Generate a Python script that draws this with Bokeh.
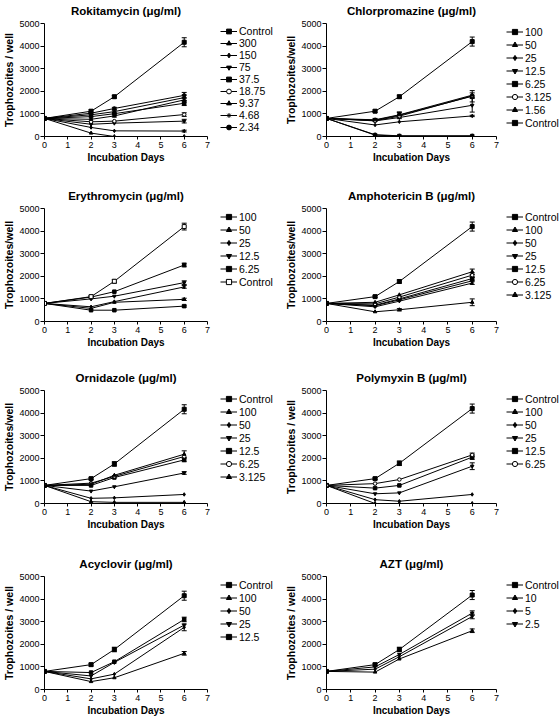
from bokeh.plotting import figure
from bokeh.layouts import column, row
from bokeh.models import (Range1d, Legend, LegendItem, Whisker, ColumnDataSource,
                          TeeHead, FixedTicker)
from bokeh.embed import file_html
from bokeh.resources import INLINE

# ---------------- data ----------------
days = [0, 2, 3, 6]
x_ticks = [0, 1, 2, 3, 4, 5, 6, 7]
y_ticks = [0, 1000, 2000, 3000, 4000, 5000]

roki_title = "Rokitamycin (μg/ml)"
roki_labels = ["Control", "300", "150", "75", "37.5", "18.75", "9.37", "4.68", "2.34"]
roki_values = [
    [800, 1120, 1760, 4170],
    [800, 150, 0, 0],
    [800, 400, 250, 240],
    [800, 540, 590, 680],
    [800, 880, 1010, 1470],
    [800, 650, 680, 970],
    [800, 760, 910, 1620],
    [800, 960, 1100, 1720],
    [800, 1030, 1240, 1820],
]
roki_errors = [
    [0, 60, 60, 200], [0, 0, 0, 0], [0, 0, 0, 40], [0, 0, 0, 80], [0, 0, 0, 100],
    [0, 0, 0, 80], [0, 0, 50, 100], [0, 0, 60, 120], [0, 40, 50, 130],
]

chlor_title = "Chlorpromazine (μg/ml)"
chlor_labels = ["100", "50", "25", "12.5", "6.25", "3.125", "1.56", "Control"]
chlor_values = [
    [800, 60, 20, 20],
    [800, 80, 30, 30],
    [800, 510, 650, 910],
    [800, 690, 840, 1380],
    [800, 720, 940, 1780],
    [800, 700, 900, 1800],
    [800, 740, 960, 1830],
    [800, 1120, 1760, 4200],
]
chlor_errors = [
    [0, 0, 0, 0], [0, 0, 0, 0], [0, 0, 0, 30], [0, 0, 0, 300], [0, 0, 150, 250],
    [0, 0, 0, 0], [0, 60, 100, 100], [0, 50, 70, 200],
]

ery_title = "Erythromycin (μg/ml)"
ery_labels = ["100", "50", "25", "12.5", "6.25", "Control"]
ery_values = [
    [800, 500, 500, 680],
    [800, 580, 850, 980],
    [800, 650, 880, 1530],
    [800, 1000, 1120, 1720],
    [800, 1080, 1320, 2500],
    [800, 1100, 1780, 4200],
]
ery_errors = [
    [0, 0, 0, 40], [0, 0, 0, 50], [0, 0, 0, 60], [0, 0, 0, 80], [0, 0, 0, 80],
    [0, 40, 80, 150],
]

ampho_title = "Amphotericin B (μg/ml)"
ampho_labels = ["Control", "100", "50", "25", "12.5", "6.25", "3.125"]
ampho_values = [
    [800, 1100, 1770, 4200],
    [800, 430, 520, 850],
    [800, 650, 900, 1700],
    [800, 700, 960, 1800],
    [800, 720, 1000, 1900],
    [800, 780, 1080, 2050],
    [800, 850, 1180, 2200],
]
ampho_errors = [
    [0, 40, 70, 200], [0, 0, 50, 150], [0, 0, 0, 60], [0, 0, 0, 0], [0, 0, 0, 80],
    [0, 0, 0, 100], [0, 0, 0, 120],
]

orni_title = "Ornidazole (μg/ml)"
orni_labels = ["Control", "100", "50", "25", "12.5", "6.25", "3.125"]
orni_values = [
    [800, 1100, 1750, 4170],
    [800, 80, 50, 50],
    [800, 230, 250, 400],
    [800, 550, 740, 1350],
    [800, 800, 1150, 1930],
    [800, 900, 1200, 2080],
    [800, 850, 1250, 2180],
]
orni_errors = [
    [0, 40, 100, 200], [0, 0, 0, 0], [0, 0, 0, 0], [0, 0, 0, 60], [0, 0, 0, 80],
    [0, 0, 0, 0], [0, 0, 0, 150],
]

poly_title = "Polymyxin B (μg/ml)"
poly_labels = ["Control", "100", "50", "25", "12.5", "6.25"]
poly_values = [
    [800, 1100, 1780, 4200],
    [800, 0, 0, 0],
    [800, 170, 100, 400],
    [800, 430, 470, 1650],
    [800, 680, 800, 2050],
    [800, 880, 1060, 2150],
]
poly_errors = [
    [0, 40, 100, 200], [0, 0, 0, 0], [0, 0, 0, 0], [0, 0, 0, 150], [0, 0, 0, 100],
    [0, 0, 0, 80],
]

acy_title = "Acyclovir (μg/ml)"
acy_labels = ["Control", "100", "50", "25", "12.5"]
acy_values = [
    [800, 1100, 1770, 4150],
    [800, 350, 520, 1600],
    [800, 470, 680, 2750],
    [800, 600, 1200, 2850],
    [800, 750, 1230, 3100],
]
acy_errors = [
    [0, 60, 100, 200], [0, 0, 0, 80], [0, 0, 0, 150], [0, 0, 0, 0], [0, 0, 0, 100],
]

azt_title = "AZT (μg/ml)"
azt_labels = ["Control", "10", "5", "2.5"]
azt_values = [
    [800, 1100, 1770, 4180],
    [800, 770, 1350, 2600],
    [800, 900, 1450, 3230],
    [800, 1000, 1550, 3380],
]
azt_errors = [
    [0, 60, 100, 200], [0, 0, 0, 80], [0, 0, 0, 100], [0, 0, 0, 100],
]

# ---------------- styling / layout ----------------
FONT = "Liberation Sans"
ROW_H = [185, 182, 186, 165]
TOP = 23
FRAME_H = 113
COL_W = [280, 280]
LEFT = [38, 46]
RPAD = 5
DATA_W = [169, 170]      # pixel width of the 0..7 day span
LEG_GAP = [8, 5]         # gap from plot canvas edge to the legend glyphs
MARKERS = ["square", "triangle", "diamond", "inverted_triangle", "square",
           "circle", "triangle", "asterisk", "circle"]


def style_marker(lab, i, open_idx):
    mk = "square" if lab == "Control" else MARKERS[i % len(MARKERS)]
    fill = "white" if i in open_idx else "black"
    sz = 4 if lab == "Control" else 3.5
    return mk, fill, sz


def make_panel(title, ylabel, labels, values, errors, open_idx, col, rowi):
    W = COL_W[col]
    H = ROW_H[rowi]
    dw = DATA_W[col]
    pw = LEFT[col] + dw + RPAD
    p = figure(width=pw, height=H, x_range=Range1d(x_ticks[0], x_ticks[-1]),
               y_range=Range1d(y_ticks[0], y_ticks[-1]),
               output_backend="svg", toolbar_location=None,
               min_border_left=LEFT[col], min_border_right=RPAD,
               min_border_top=TOP, min_border_bottom=H - TOP - FRAME_H)
    p.outline_line_color = None
    p.xgrid.visible = False
    p.ygrid.visible = False
    p.background_fill_color = "white"
    p.border_fill_color = "white"

    p.title.text = title
    p.title.align = "center"
    p.title.vertical_align = "top"
    p.title.text_font = FONT
    p.title.text_font_size = "11.5px"
    p.title.text_font_style = "bold"
    p.title.text_color = "black"
    p.title.standoff = 9

    p.xaxis.ticker = FixedTicker(ticks=x_ticks)
    p.yaxis.ticker = FixedTicker(ticks=y_ticks)
    for ax in (p.xaxis, p.yaxis):
        ax.axis_line_color = "black"
        ax.major_tick_line_color = "black"
        ax.minor_tick_line_color = None
        ax.major_tick_in = 0
        ax.major_tick_out = 3
        ax.major_label_text_font = FONT
        ax.major_label_text_font_size = "9px"
        ax.major_label_text_color = "black"
        ax.axis_label_text_font = FONT
        ax.axis_label_text_font_style = "bold"
        ax.axis_label_text_color = "black"
    p.xaxis.major_label_standoff = 2
    p.xaxis.axis_label_standoff = 1
    p.xaxis.axis_label = "Incubation Days"
    p.xaxis.axis_label_text_font_size = "10px"
    p.yaxis.major_tick_out = 4
    p.yaxis.major_label_standoff = 1
    p.yaxis.axis_label = ylabel
    p.yaxis.axis_label_text_font_size = "10.5px"
    p.yaxis.axis_label_standoff = 1

    # legend canvas right of the plot; its series are drawn outside its view
    lw = W - pw
    lf = figure(width=lw, height=H, x_range=Range1d(-20, -10), y_range=Range1d(-20, -10),
                x_axis_type=None, y_axis_type=None, output_backend="svg",
                toolbar_location=None, min_border_left=LEG_GAP[col] - 2,
                min_border_right=0, min_border_top=TOP, min_border_bottom=H - TOP - FRAME_H)
    lf.outline_line_color = None
    lf.background_fill_color = "white"
    lf.border_fill_color = "white"

    n = len(labels)
    item_h = 13 if n <= 8 else 12
    items = []
    for i, (lab, vals, errs) in enumerate(zip(labels, values, errors)):
        mk, fill, sz = style_marker(lab, i, open_idx)
        p.line(days, vals, line_color="black", line_width=1)
        p.scatter(days, vals, marker=mk, size=sz, line_color="black",
                  fill_color=fill, line_width=1)
        xs = [d for d, e in zip(days, errs) if e > 0]
        if xs:
            up = [v + e for v, e in zip(vals, errs) if e > 0]
            lo = [v - e for v, e in zip(vals, errs) if e > 0]
            src = ColumnDataSource(data=dict(x=xs, upper=up, lower=lo))
            w = Whisker(base="x", upper="upper", lower="lower", source=src,
                        dimension="height", line_color="black", line_width=1,
                        upper_head=TeeHead(size=5, line_color="black", line_width=1),
                        lower_head=TeeHead(size=5, line_color="black", line_width=1))
            p.add_layout(w)
        ln = lf.line(days, vals, line_color="black", line_width=1)
        sc = lf.scatter(days, vals, marker=mk, size=sz, line_color="black",
                        fill_color=fill, line_width=1)
        items.append(LegendItem(label=lab, renderers=[ln, sc]))

    legend = Legend(items=items, location="top_left",
                    border_line_color=None, background_fill_alpha=0,
                    padding=0, margin=2, spacing=0,
                    glyph_width=17, glyph_height=item_h, label_height=item_h,
                    label_standoff=2, label_text_font=FONT,
                    label_text_font_size="10.5px", label_text_color="black")
    lf.add_layout(legend)
    return row(p, lf)


p1 = make_panel(roki_title, "Trophozoites / well", roki_labels, roki_values, roki_errors, {5}, 0, 0)
p2 = make_panel(chlor_title, "Trophozoites/well", chlor_labels, chlor_values, chlor_errors, {5}, 1, 0)
p3 = make_panel(ery_title, "Trophozoites/well", ery_labels, ery_values, ery_errors, {5}, 0, 1)
p4 = make_panel(ampho_title, "Trophozoites/well", ampho_labels, ampho_values, ampho_errors, {5}, 1, 1)
p5 = make_panel(orni_title, "Trophozoites/well", orni_labels, orni_values, orni_errors, {5}, 0, 2)
p6 = make_panel(poly_title, "Trophozoites / well", poly_labels, poly_values, poly_errors, {5}, 1, 2)
p7 = make_panel(acy_title, "Trophozoites / well", acy_labels, acy_values, acy_errors, set(), 0, 3)
p8 = make_panel(azt_title, "Trophozoites / well", azt_labels, azt_values, azt_errors, set(), 1, 3)

layout = column(row(p1, p2), row(p3, p4), row(p5, p6), row(p7, p8))

open("out.html", "w").write(file_html(layout, INLINE))
